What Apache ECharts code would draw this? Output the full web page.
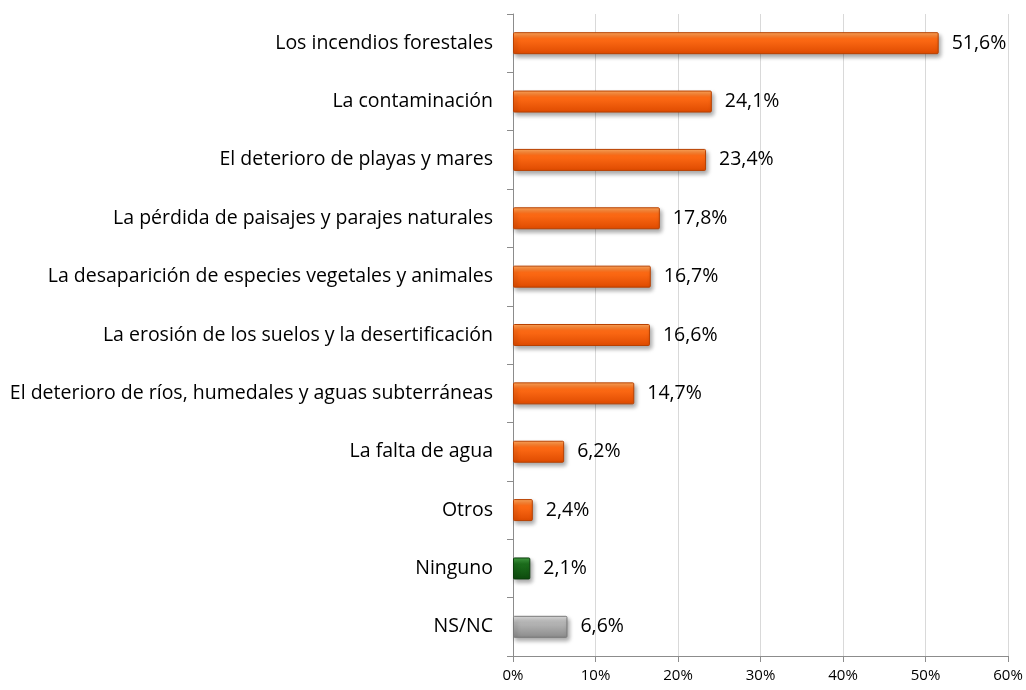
<!DOCTYPE html>
<html>
<head>
<meta charset="utf-8">
<script src="https://cdn.jsdelivr.net/npm/echarts@6/dist/echarts.min.js"></script>
<style>
  html, body { margin: 0; padding: 0; background: #fff; }
  #chart { width: 1026px; height: 690px; }
</style>
</head>
<body>
<div id="chart"></div>
<script>
// categories from top to bottom
var categories = [
    'Los incendios forestales',
    'La contaminación',
    'El deterioro de playas y mares',
    'La pérdida de paisajes y parajes naturales',
    'La desaparición de especies vegetales y animales',
    'La erosión de los suelos y la desertificación',
    'El deterioro de ríos, humedales y aguas subterráneas',
    'La falta de agua',
    'Otros',
    'Ninguno',
    'NS/NC'
];
var values = [51.6, 24.1, 23.4, 17.8, 16.7, 16.6, 14.7, 6.2, 2.4, 2.1, 6.6];
var xTicks = [0, 10, 20, 30, 40, 50, 60];

function grad(top, mid, bottom) {
    return new echarts.graphic.LinearGradient(0, 0, 0, 1, [
        { offset: 0, color: top },
        { offset: 0.3, color: mid },
        { offset: 1, color: bottom }
    ]);
}
var orange = grad('#ffa95e', '#ff6c16', '#de4a00');
var green = grad('#45a445', '#1c6e1c', '#0d4a0d');
var grey = grad('#e2e2e2', '#b8b8b8', '#8a8a8a');

var chart = echarts.init(document.getElementById('chart'));

var data = values.map(function (v, i) {
    var c = orange, b = '#b84000';
    if (categories[i] === 'Ninguno') { c = green; b = '#0b3d0b'; }
    if (categories[i] === 'NS/NC') { c = grey; b = '#7a7a7a'; }
    return { value: v, itemStyle: { color: c, borderColor: b } };
});

chart.setOption({
    animation: false,
    textStyle: { fontFamily: 'Open Sans' },
    grid: { left: 513, right: 18, top: 14, bottom: 34 },
    xAxis: {
        type: 'value',
        min: 0,
        max: 60,
        interval: 10,
        axisLine: { show: true, lineStyle: { color: '#8c8c8c' } },
        axisTick: { show: true, length: 6, lineStyle: { color: '#8c8c8c' } },
        axisLabel: {
            color: '#000', fontSize: 15, margin: 12,
            formatter: function (v) { return xTicks.indexOf(v) >= 0 ? v + '%' : ''; }
        },
        splitLine: { show: true, lineStyle: { color: '#d9d9d9' } }
    },
    yAxis: {
        type: 'category',
        inverse: true,
        data: categories,
        axisLine: { show: true, lineStyle: { color: '#8c8c8c' } },
        axisTick: { show: true, length: 6, lineStyle: { color: '#8c8c8c' } },
        axisLabel: { color: '#000', fontSize: 19.5, margin: 20 }
    },
    series: [{
        type: 'bar',
        data: data,
        barWidth: 22,
        itemStyle: {
            borderWidth: 1,
            borderRadius: 1,
            shadowColor: 'rgba(0,0,0,0.35)',
            shadowBlur: 4,
            shadowOffsetX: 2,
            shadowOffsetY: 3
        },
        label: {
            show: true,
            position: 'right',
            distance: 13,
            color: '#000',
            fontSize: 19.5,
            formatter: function (p) { return p.value.toFixed(1).replace('.', ',') + '%'; }
        }
    }]
});
</script>
</body>
</html>
